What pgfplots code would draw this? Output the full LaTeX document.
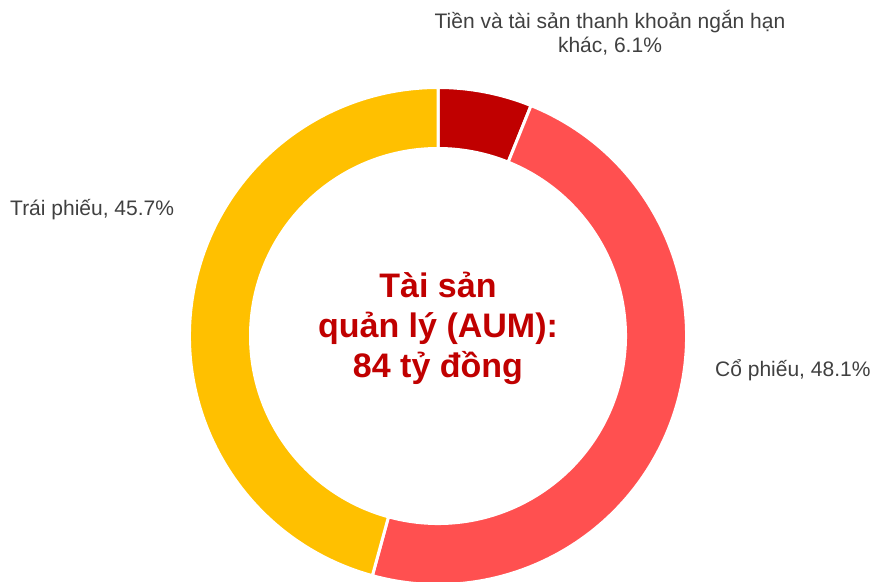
\documentclass[border=0pt]{standalone}
\usepackage{pgfplots}
\pgfplotsset{compat=1.18}
\usepackage{pgfplotstable}
\usepackage{fontspec}
\setmainfont{Liberation Sans}
\definecolor{darkred}{HTML}{C00000}
\definecolor{midred}{HTML}{FF5050}
\definecolor{gold}{HTML}{FFC000}
\definecolor{labelgrey}{HTML}{404040}

\pgfplotstableread{
share
6.1
48.1
45.7
}\datatable

\begin{document}
\begin{tikzpicture}
\pgfplotstablegetelem{0}{share}\of\datatable \let\sA\pgfplotsretval
\pgfplotstablegetelem{1}{share}\of\datatable \let\sB\pgfplotsretval
\pgfplotstablegetelem{2}{share}\of\datatable \let\sC\pgfplotsretval
\pgfmathsetmacro\tot{\sA+\sB+\sC}
\pgfmathsetmacro\aA{90}
\pgfmathsetmacro\aB{90-\sA/\tot*360}
\pgfmathsetmacro\aC{\aB-\sB/\tot*360}
\pgfmathsetmacro\aD{-270}
\begin{axis}[hide axis, scale only axis, width=873bp, height=582bp,
  xmin=0, xmax=873, ymin=0, ymax=582, clip=true]
\fill[darkred, draw=white, line width=3bp] (axis cs:438,246) ++(\aA:248.5bp) arc[start angle=\aA, end angle=\aB, radius=248.5bp] -- ([shift={(\aB:187.5bp)}]axis cs:438,246) arc[start angle=\aB, end angle=\aA, radius=187.5bp] -- cycle;
\fill[midred, draw=white, line width=3bp] (axis cs:438,246) ++(\aB:248.5bp) arc[start angle=\aB, end angle=\aC, radius=248.5bp] -- ([shift={(\aC:187.5bp)}]axis cs:438,246) arc[start angle=\aC, end angle=\aB, radius=187.5bp] -- cycle;
\fill[gold, draw=white, line width=3bp] (axis cs:438,246) ++(\aC:248.5bp) arc[start angle=\aC, end angle=\aD, radius=248.5bp] -- ([shift={(\aD:187.5bp)}]axis cs:438,246) arc[start angle=\aD, end angle=\aC, radius=187.5bp] -- cycle;
% labels
\node[anchor=base, text=labelgrey, font=\fontsize{21bp}{25bp}\selectfont, inner sep=0pt] at (axis cs:610,553) {Tiền và tài sản thanh khoản ngắn hạn};
\node[anchor=base, text=labelgrey, font=\fontsize{21bp}{25bp}\selectfont, inner sep=0pt] at (axis cs:610,529) {khác, 6.1\%};
\node[anchor=base west, text=labelgrey, font=\fontsize{21bp}{25bp}\selectfont, inner sep=0pt] at (axis cs:715,205) {Cổ phiếu, 48.1\%};
\node[anchor=base west, text=labelgrey, font=\fontsize{21bp}{25bp}\selectfont, inner sep=0pt] at (axis cs:10,366) {Trái phiếu, 45.7\%};
% center
\node[anchor=base, text=darkred, font=\fontsize{34bp}{40bp}\selectfont\bfseries, inner sep=0pt] at (axis cs:438,284) {Tài sản};
\node[anchor=base, text=darkred, font=\fontsize{34bp}{40bp}\selectfont\bfseries, inner sep=0pt] at (axis cs:438,244) {quản lý (AUM):};
\node[anchor=base, text=darkred, font=\fontsize{34bp}{40bp}\selectfont\bfseries, inner sep=0pt] at (axis cs:438,204) {84 tỷ đồng};
\end{axis}
\pgfresetboundingbox
\useasboundingbox (current axis.south west) rectangle (current axis.north east);
\end{tikzpicture}
\end{document}
